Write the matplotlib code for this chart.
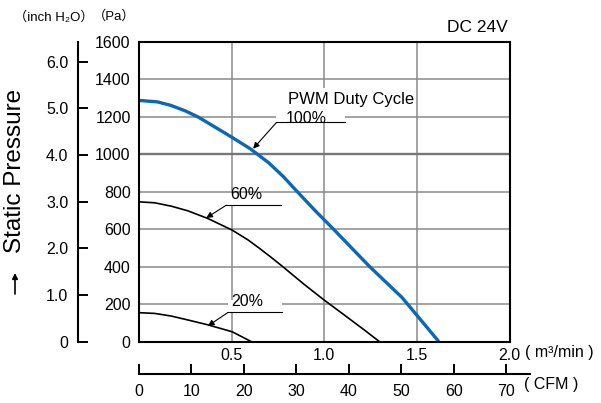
import matplotlib
matplotlib.use("Agg")
import matplotlib.pyplot as plt
from matplotlib.patches import Rectangle, FancyArrowPatch

plt.rcParams['font.family'] = ['Liberation Sans', 'Noto Sans CJK JP', 'DejaVu Sans']

# ---- data (m3/min, Pa) ----
flow_100 = [0.0, 0.10, 0.17, 0.25, 0.32, 0.50, 0.60, 0.70, 0.78, 0.85, 0.95, 1.05, 1.245, 1.42, 1.50, 1.618]
pres_100 = [1288, 1280, 1262, 1232, 1199, 1092, 1030, 955, 880, 805, 700, 600, 400, 235, 140, 0]

flow_60 = [0.0, 0.085, 0.174, 0.264, 0.372, 0.503, 0.588, 0.65, 0.713, 0.771, 0.893, 1.0, 1.109, 1.217, 1.297]
pres_60 = [746, 741, 723, 698, 657, 595, 543, 498, 450, 404, 304, 221, 141, 61, 0]

flow_20 = [0.0, 0.085, 0.174, 0.264, 0.372, 0.503, 0.605]
pres_20 = [154, 150, 136, 115, 89, 52, 0]

x_ticks = [0.5, 1.0, 1.5, 2.0]
x_ticklabels = ['0.5', '1.0', '1.5', '2.0']
y_ticks = [0, 200, 400, 600, 800, 1000, 1200, 1400, 1600]
inch_ticks = [0, 1, 2, 3, 4, 5, 6]
inch_labels = ['0', '1.0', '2.0', '3.0', '4.0', '5.0', '6.0']
cfm_ticks = [0, 10, 20, 30, 40, 50, 60, 70]

PA_PER_INCH = 249.089
CFM_PER_M3MIN = 35.3147

W, H = 601, 403
fig = plt.figure(figsize=(W / 100, H / 100), dpi=100)

def fx(px):
    return px / W

def fy(py):
    return 1 - py / H

L, R, T, B = 139, 509.5, 42, 341.5
ax = fig.add_axes([fx(L), fy(B), (R - L) / W, (B - T) / H])
ax.set_xlim(0, 2.0)
ax.set_ylim(0, 1600)
ax.set_xticks(x_ticks)
ax.set_xticklabels(x_ticklabels)
ax.set_yticks(y_ticks)
ax.tick_params(axis='both', length=0, labelsize=11.5)
ax.tick_params(axis='x', pad=5)
ax.tick_params(axis='y', pad=6)
ax.grid(True, color='#8a8a8a', lw=1.1)
ax.axhline(1000, color='#777777', lw=1.7, zorder=1.6)
for s in ax.spines.values():
    s.set_linewidth(1.5)
    s.set_zorder(5)

ax.plot(flow_100, pres_100, color='#0b68b4', lw=2.4, zorder=3, solid_capstyle='butt')
ax.plot(flow_60, pres_60, color='black', lw=1.2, zorder=3)
ax.plot(flow_20, pres_20, color='black', lw=1.2, zorder=3)

# white label backgrounds (break the grid like the reference)
for (x0, y0, x1, y1) in [(0.717, 1229, 1.364, 1352), (0.742, 1170, 1.11, 1236),
                         (0.471, 728, 0.767, 795), (0.480, 155, 0.771, 220)]:
    ax.add_patch(Rectangle((x0, y0), x1 - x0, y1 - y0, facecolor='white',
                           edgecolor='none', zorder=1.8))

ax.text(1.144, 1293, 'PWM Duty Cycle', ha='center', va='center', fontsize=12, zorder=4)

labels = [('100%', (0.742, 1.11, 1170), (0.616, 1030), (0.904, 1192)),
          ('60%', (0.471, 0.767, 728), (0.363, 660), (0.578, 783)),
          ('20%', (0.480, 0.771, 155), (0.372, 83), (0.586, 213))]
for txt, (lx0, lx1, ly), tip, tpos in labels:
    ax.plot([lx0, lx1], [ly, ly], color='black', lw=0.8, zorder=4)
    ax.annotate('', xy=tip, xytext=(lx0, ly),
                arrowprops=dict(arrowstyle='-|>', color='black', lw=0.8,
                                mutation_scale=9, shrinkA=0, shrinkB=0), zorder=4)
    ax.text(tpos[0], tpos[1], txt, ha='center', va='center', fontsize=11.5, zorder=4)

# inch H2O axis
ax2 = fig.add_axes([fx(78), fy(B), 0.002, (B - T) / H])
ax2.set_ylim(0, 1600 / PA_PER_INCH)
ax2.set_yticks(inch_ticks)
ax2.set_yticklabels(inch_labels)
ax2.set_xticks([])
ax2.patch.set_visible(False)
for k in ['top', 'right', 'bottom']:
    ax2.spines[k].set_visible(False)
ax2.spines['left'].set_linewidth(1.5)
ax2.tick_params(axis='y', direction='in', length=7.5, width=1.4, pad=7, labelsize=11.5)

# CFM axis
CR = 530
ax3 = fig.add_axes([fx(L), fy(374), (CR - L) / W, 0.002])
ax3.set_xlim(0, (CR - L) / (R - L) * 2.0 * CFM_PER_M3MIN)
ax3.set_xticks(cfm_ticks)
ax3.set_yticks([])
ax3.patch.set_visible(False)
for k in ['top', 'right', 'left']:
    ax3.spines[k].set_visible(False)
ax3.spines['bottom'].set_linewidth(1.5)
ax3.tick_params(axis='x', direction='in', length=7, width=1.4, pad=7, labelsize=11.5)

# texts
fig.text(fx(508), fy(27), 'DC 24V', ha='right', va='center', fontsize=12.5)
fig.text(fx(54), fy(17.5), '（inch H₂O）', ha='center', va='center', fontsize=9.5)
fig.text(fx(114), fy(16), '（Pa）', ha='center', va='center', fontsize=9.5)
fig.text(fx(15), fy(171), 'Static Pressure', rotation=90, ha='center', va='center', fontsize=17.5)
fig.add_artist(FancyArrowPatch(
    (fx(15), fy(294)), (fx(15), fy(273)), transform=fig.transFigure,
    arrowstyle='-|>', mutation_scale=8, lw=1.2, color='black',
    shrinkA=0, shrinkB=0))
fig.text(fx(525), fy(353), '( m³/min )', ha='left', va='center', fontsize=11.5)
fig.text(fx(524), fy(384), '( CFM )', ha='left', va='center', fontsize=11.5)

fig.savefig('out.png', dpi=100)
